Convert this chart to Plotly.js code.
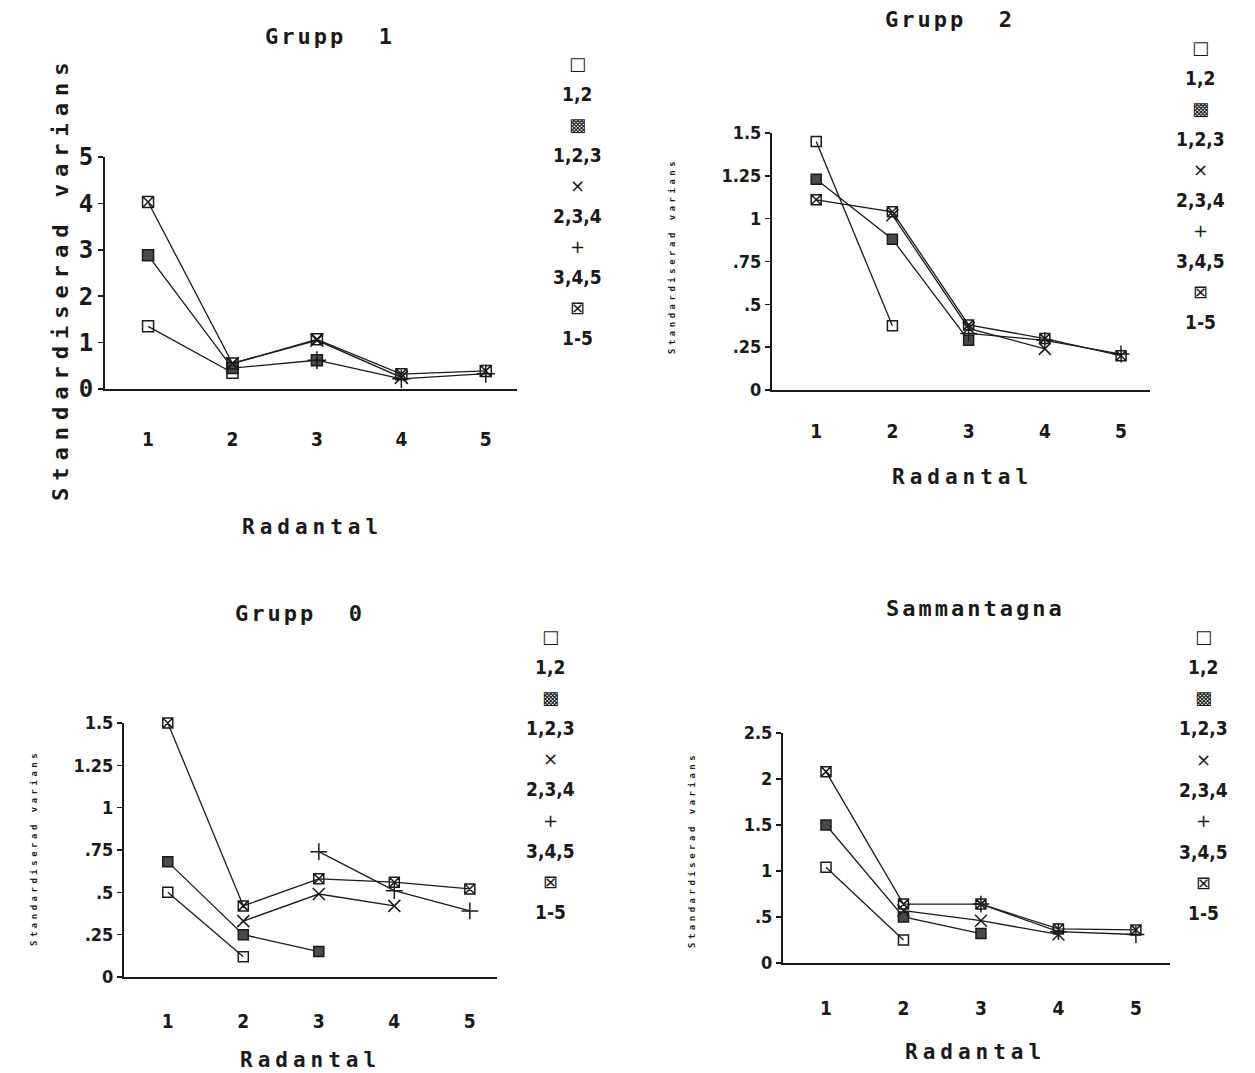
<!DOCTYPE html>
<html>
<head>
<meta charset="utf-8">
<script src="https://cdn.plot.ly/plotly-3.0.1.min.js"></script>
<style>html,body{margin:0;padding:0;background:#fff;}</style>
</head>
<body>
<div id="chart" style="width:1255px;height:1073px;"></div>
<script>
// ---------- data ----------
const seriesNames = ["1,2", "1,2,3", "2,3,4", "3,4,5", "1-5"];
const legendGlyphs = ["□", "▩", "×", "+", "⊠"];
const x12 = [1, 2];
const x123 = [1, 2, 3];
const x234 = [2, 3, 4];
const x345 = [3, 4, 5];
const x15 = [1, 2, 3, 4, 5];
const xTickVals = [1, 2, 3, 4, 5];
const xTickText = ["1", "2", "3", "4", "5"];

// Grupp 1
const g1_12 = [1.35, 0.35];
const g1_123 = [2.88, 0.45, 0.62];
const g1_234 = [0.55, 1.05, 0.25];
const g1_345 = [0.62, 0.22, 0.33];
const g1_15 = [4.03, 0.55, 1.07, 0.32, 0.39];
const g1_yTicks = [0, 1, 2, 3, 4, 5];
const g1_yText = ["0", "1", "2", "3", "4", "5"];

// Grupp 2
const g2_12 = [1.45, 0.375];
const g2_123 = [1.23, 0.88, 0.29];
const g2_234 = [1.02, 0.36, 0.24];
const g2_345 = [0.33, 0.29, 0.21];
const g2_15 = [1.11, 1.04, 0.38, 0.30, 0.20];
const g2_yTicks = [0, 0.25, 0.5, 0.75, 1, 1.25, 1.5];
const g2_yText = ["0", ".25", ".5", ".75", "1", "1.25", "1.5"];

// Grupp 0
const g0_12 = [0.50, 0.12];
const g0_123 = [0.68, 0.25, 0.15];
const g0_234 = [0.33, 0.49, 0.42];
const g0_345 = [0.74, 0.51, 0.39];
const g0_15 = [1.50, 0.42, 0.58, 0.56, 0.52];
const g0_yTicks = [0, 0.25, 0.5, 0.75, 1, 1.25, 1.5];
const g0_yText = ["0", ".25", ".5", ".75", "1", "1.25", "1.5"];

// Sammantagna
const gs_12 = [1.04, 0.25];
const gs_123 = [1.50, 0.50, 0.32];
const gs_234 = [0.57, 0.46, 0.31];
const gs_345 = [0.64, 0.34, 0.31];
const gs_15 = [2.08, 0.64, 0.64, 0.37, 0.36];
const gs_yTicks = [0, 0.5, 1, 1.5, 2, 2.5];
const gs_yText = ["0", ".5", "1", "1.5", "2", "2.5"];

const panelTitles = ["Grupp  1", "Grupp  2", "Grupp  0", "Sammantagna"];
const xTitle = "Radantal";
const yTitle = "Standardiserad varians";

// ---------- styling / layout ----------
const W = 1255, H = 1073;
const px = v => v / W;
const py = v => 1 - v / H;
const INK = "#1a1a1a";
const MONO = "DejaVu Sans Mono, monospace";
const COND = "DejaVu Sans Condensed, DejaVu Sans, sans-serif";

const xs = [x12, x123, x234, x345, x15];
const symbols = ["square-open", "square", "x-thin-open", "cross-thin-open", "square-x-open"];

const panels = [
  {ys: [g1_12, g1_123, g1_234, g1_345, g1_15], yt: g1_yTicks, ytt: g1_yText, yr: [0, 5],
   xd: [105, 517], yd: [389, 157], xr: [0.49, 5.37], standoff: 32, yTickFont: {family: MONO, size: 24},
   msize: 11, title: [330, 37], xt: [312, 527], ytp: [60, 279], ytBig: true, leg: [577, 63, 30.5]},
  {ys: [g2_12, g2_123, g2_234, g2_345, g2_15], yt: g2_yTicks, ytt: g2_yText, yr: [0, 1.5],
   xd: [772, 1150], yd: [390, 133], xr: [0.42, 5.38], standoff: 23, yTickFont: {family: COND, size: 18},
   msize: 10, title: [950, 20], xt: [962, 477], ytp: [672, 256], ytBig: false, leg: [1200, 47, 30.6]},
  {ys: [g0_12, g0_123, g0_234, g0_345, g0_15], yt: g0_yTicks, ytt: g0_yText, yr: [0, 1.5],
   xd: [124, 497], yd: [977, 723], xr: [0.42, 5.36], standoff: 26, yTickFont: {family: COND, size: 18},
   msize: 10, title: [300, 613], xt: [310, 1060], ytp: [34, 848], ytBig: false, leg: [550, 636, 30.7]},
  {ys: [gs_12, gs_123, gs_234, gs_345, gs_15], yt: gs_yTicks, ytt: gs_yText, yr: [0, 2.5],
   xd: [783, 1170], yd: [963, 733], xr: [0.445, 5.44], standoff: 27, yTickFont: {family: COND, size: 18},
   msize: 10, title: [975, 608], xt: [975, 1052], ytp: [692, 850], ytBig: false, leg: [1203, 636, 30.8]}
];

const traces = [];
const layout = {
  width: W, height: H,
  margin: {l: 0, r: 0, t: 0, b: 0},
  paper_bgcolor: "#fff", plot_bgcolor: "#fff",
  showlegend: false,
  annotations: []
};

panels.forEach((p, i) => {
  const n = i + 1;
  const xa = n === 1 ? "x" : "x" + n;
  const ya = n === 1 ? "y" : "y" + n;
  p.ys.forEach((yv, k) => {
    traces.push({
      type: "scatter", mode: "lines+markers",
      x: xs[k], y: yv, xaxis: xa, yaxis: ya, name: seriesNames[k],
      cliponaxis: false,
      line: {color: INK, width: 1.3},
      marker: {symbol: symbols[k], size: (k === 2 || k === 3) ? p.msize + 2 : p.msize,
               color: k === 1 ? "#4a4a4a" : INK, line: {color: INK, width: 1.5}}
    });
  });
  layout["xaxis" + (n === 1 ? "" : n)] = {
    domain: [px(p.xd[0]), px(p.xd[1])], anchor: ya, range: p.xr,
    showgrid: false, zeroline: false, showline: true, linecolor: INK, linewidth: 2,
    tickvals: xTickVals, ticktext: xTickText, ticks: "", ticklabelstandoff: p.standoff,
    tickfont: {family: COND, size: 19, color: INK, weight: "bold"}, fixedrange: true
  };
  layout["yaxis" + (n === 1 ? "" : n)] = {
    domain: [py(p.yd[0]), py(p.yd[1])], anchor: xa, range: p.yr,
    showgrid: false, zeroline: false, showline: true, linecolor: INK, linewidth: 2,
    tickvals: p.yt, ticktext: p.ytt, ticks: "outside", ticklen: 5, tickwidth: 1.5, tickcolor: INK,
    tickfont: {family: p.yTickFont.family, size: p.yTickFont.size, color: INK, weight: "bold"}, fixedrange: true
  };
  // panel title
  layout.annotations.push({
    xref: "paper", yref: "paper", x: px(p.title[0]), y: py(p.title[1]), xanchor: "center", yanchor: "middle",
    showarrow: false, text: '<span style="letter-spacing:3px">' + panelTitles[i] + '</span>',
    font: {family: MONO, size: 22, color: INK, weight: "bold"}
  });
  // x title
  layout.annotations.push({
    xref: "paper", yref: "paper", x: px(p.xt[0]), y: py(p.xt[1]), xanchor: "center", yanchor: "middle",
    showarrow: false, text: '<span style="letter-spacing:5px">' + xTitle + '</span>',
    font: {family: MONO, size: 21, color: INK, weight: "bold"}
  });
  // y title
  layout.annotations.push({
    xref: "paper", yref: "paper", x: px(p.ytp[0]), y: py(p.ytp[1]), xanchor: "center", yanchor: "middle",
    showarrow: false, textangle: -90,
    text: p.ytBig ? '<span style="letter-spacing:7px">' + yTitle + '</span>'
                  : '<span style="letter-spacing:3.5px">' + yTitle + '</span>',
    font: {family: MONO, size: p.ytBig ? 22 : 9, color: INK, weight: "bold"}
  });
  // legend (glyph above label)
  seriesNames.forEach((nm, k) => {
    layout.annotations.push({
      xref: "paper", yref: "paper", x: px(p.leg[0]), y: py(p.leg[1] + p.leg[2] * (2 * k)),
      xanchor: "center", yanchor: "middle", showarrow: false, text: legendGlyphs[k],
      font: {family: "DejaVu Sans", size: 18, color: INK}
    });
    layout.annotations.push({
      xref: "paper", yref: "paper", x: px(p.leg[0]), y: py(p.leg[1] + p.leg[2] * (2 * k + 1)),
      xanchor: "center", yanchor: "middle", showarrow: false, text: nm,
      font: {family: COND, size: 19, color: INK, weight: "bold"}
    });
  });
});

Plotly.newPlot("chart", traces, layout, {displayModeBar: false, staticPlot: true});
</script>
</body>
</html>
